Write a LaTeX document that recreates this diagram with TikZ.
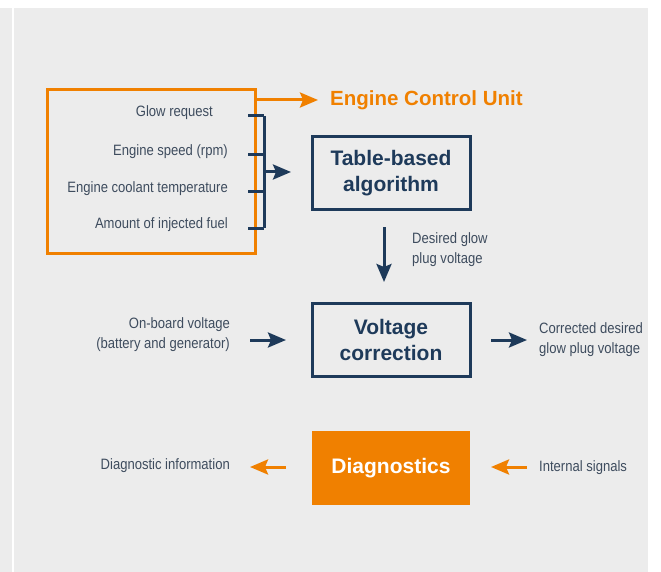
\documentclass[tikz,border=0pt]{standalone}
\usepackage{fontspec}
\setmainfont{Liberation Sans}
\newfontfamily\narrowfont[FakeStretch=0.87]{Liberation Sans}
\usetikzlibrary{arrows.meta,positioning,calc}
\definecolor{ecuorange}{HTML}{F08000}
\definecolor{boxnavy}{HTML}{1E3A5A}
\definecolor{labelgray}{HTML}{3E4C5E}
\definecolor{panelgray}{HTML}{ECECEC}

\tikzset{
	block/.style={draw=boxnavy, line width=3pt, minimum width=158pt, minimum height=73pt,
		align=center, text=boxnavy, font=\fontsize{21}{26}\selectfont\bfseries},
	diagblock/.style={fill=ecuorange, minimum width=158pt, minimum height=74pt,
		text=white, font=\fontsize{21}{26}\selectfont\bfseries},
	sig/.style={inner sep=0pt, text=labelgray, font=\narrowfont\fontsize{15}{20}\selectfont},
	navyarrow/.style={draw=boxnavy, line width=3pt, -{Stealth[length=18pt,width=15pt,inset=3pt]}},
	orangearrow/.style={draw=ecuorange, line width=3pt, -{Stealth[length=18pt,width=15pt,inset=3pt]}}
}

\begin{document}
\begin{tikzpicture}[x=1pt,y=-1pt]
\useasboundingbox(0,0)rectangle(661,572);
\fill[panelgray](0,8)rectangle(648,572);
\fill[white](12,8)rectangle(14,572);

% engine control unit
\node[draw=ecuorange, line width=3pt, minimum width=208pt, minimum height=163pt](ecu) at (151,171.5){};
\node[anchor=west, inner sep=0pt, text=ecuorange, font=\fontsize{20.5}{24}\selectfont\bfseries](ecutxt) at (330,100){Engine Control Unit};
\draw[orangearrow](ecu.east|-ecutxt)to([xshift=-12pt]ecutxt.west);

% inputs and bracket
\foreach \txt/\xx/\yy/\nm in {Glow request/213/116/glow, Engine speed (rpm)/228/155/rpm, Engine coolant temperature/228/192/temp, Amount of injected fuel/228/228/fuel}{
	\node[sig, anchor=east](\nm) at (\xx,\yy-3.5){\txt};
	\coordinate(\nm t) at (248,\yy);
	\draw[boxnavy, line width=3pt](\nm t)to++(16,0);
}
\coordinate(brtop) at (264,116);
\coordinate(brbot) at (264,228);
\draw[boxnavy, line width=3pt](brtop)to(brbot);
\coordinate(brmid) at ($(brtop)!0.5!(brbot)$);

% blocks
\node[block](tab) at (391,173.5){Table-based\\algorithm};
\node[block](volt) at (391,340){Voltage\\correction};
\node[diagblock](diag) at (391,468){Diagnostics};

\draw[navyarrow](brmid)to++(27,0);
\draw[navyarrow](384,227)coordinate(dtop)to(384,282)coordinate(dbot);
\node[sig, anchor=west, align=left](desired) at (412,250){Desired glow\\plug voltage};

% voltage correction
\node[sig, anchor=east, align=right](onboard) at (230,335){On-board voltage\\(battery and generator)};
\node[sig, anchor=west, align=left](corrected) at (539,340){Corrected desired\\glow plug voltage};
\draw[navyarrow](250,340)coordinate(vin)to(286,340);
\draw[navyarrow](491,340)coordinate(vout)to(527,340);

% diagnostics
\node[sig, anchor=east](diaginfo) at (230,466){Diagnostic information};
\node[sig, anchor=west](internal) at (539,468){Internal signals};
\draw[orangearrow](286,467)coordinate(dout)to(250,467);
\draw[orangearrow](527,467)coordinate(din)to(491,467);
\end{tikzpicture}
\end{document}
